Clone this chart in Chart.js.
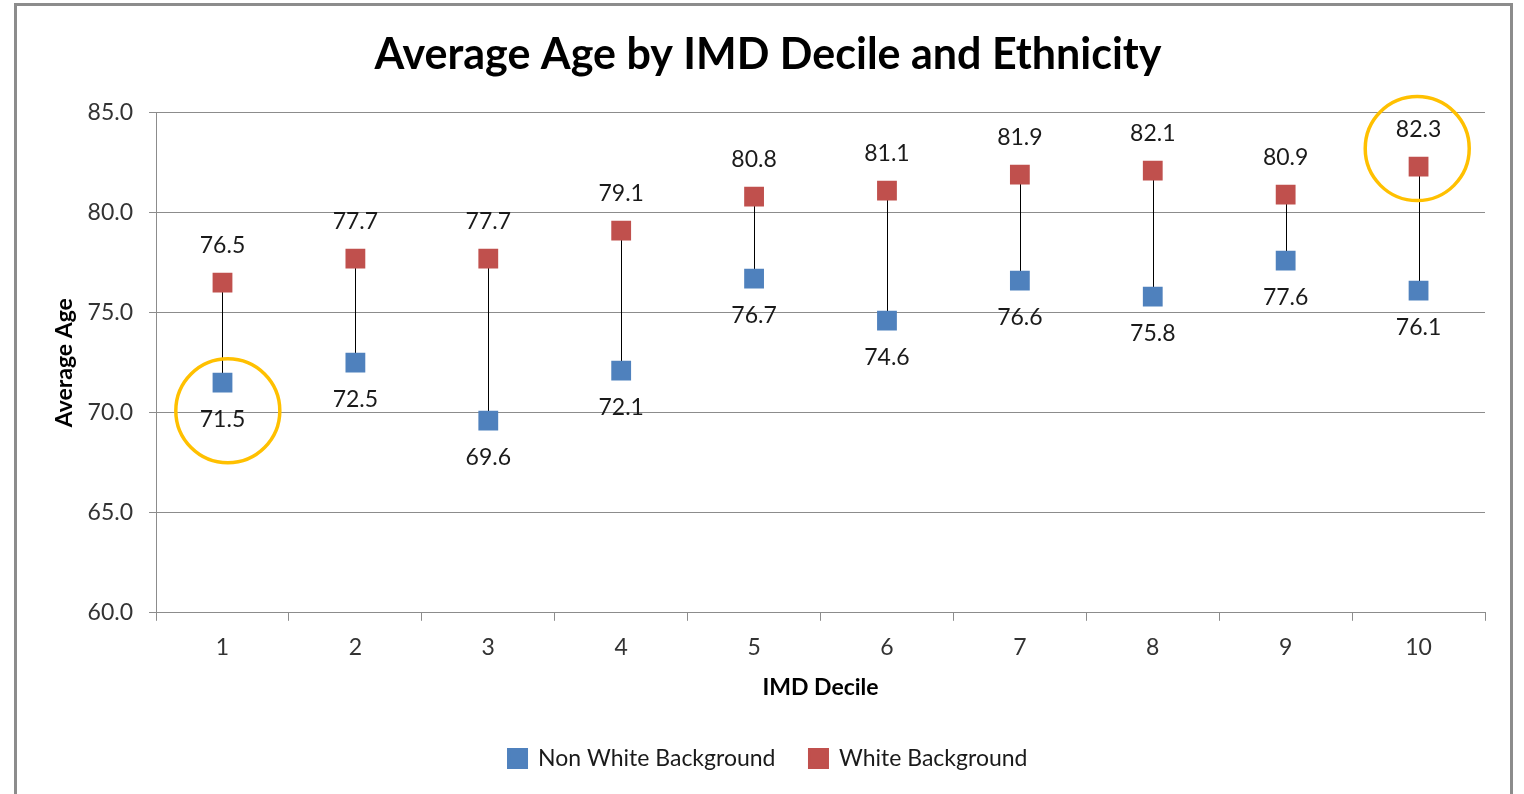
<!DOCTYPE html>
<html>
<head>
<meta charset="utf-8">
<script src="https://cdn.jsdelivr.net/npm/chart.js@4.4.1/dist/chart.umd.min.js"></script>
<style>
  html, body { margin: 0; padding: 0; background: #fff; overflow: hidden; }
  #frame {
    position: absolute; left: 14px; top: 3px;
    width: 1493px; height: 791px;
    border: 3px solid #8c8c8c;
  }
  #chart { display: block; }
</style>
</head>
<body>
<div id="frame"><canvas id="chart" width="1493" height="791"></canvas></div>
<script>
const deciles = ['1', '2', '3', '4', '5', '6', '7', '8', '9', '10'];
const nonWhite = [71.5, 72.5, 69.6, 72.1, 76.7, 74.6, 76.6, 75.8, 77.6, 76.1];
const white = [76.5, 77.7, 77.7, 79.1, 80.8, 81.1, 81.9, 82.1, 80.9, 82.3];

// circled points: decile position and age at the circle centre
const highlightDeciles = [1.04, 9.99];
const highlightAges = [70.1, 83.2];

const FONT = 'Lato, "Open Sans", sans-serif';

// thin black line joining the two values in each decile
const hiLoLines = {
    id: 'hiLoLines',
    beforeDatasetsDraw(chart) {
        const { ctx, scales: { x, y } } = chart;
        ctx.save();
        ctx.strokeStyle = '#000';
        ctx.lineWidth = 1;
        deciles.forEach((d, i) => {
            const px = Math.round(x.getPixelForValue(i)) + 0.5;
            ctx.beginPath();
            ctx.moveTo(px, y.getPixelForValue(white[i]));
            ctx.lineTo(px, y.getPixelForValue(nonWhite[i]));
            ctx.stroke();
        });
        ctx.restore();
    }
};

// value labels: white above, non white below
const valueLabels = {
    id: 'valueLabels',
    afterDatasetsDraw(chart) {
        const { ctx } = chart;
        ctx.save();
        ctx.font = '23px ' + FONT;
        ctx.fillStyle = '#1a1a1a';
        ctx.textAlign = 'center';
        ctx.textBaseline = 'middle';
        chart.data.datasets.forEach((ds, di) => {
            const meta = chart.getDatasetMeta(di);
            meta.data.forEach((pt, i) => {
                const off = ds.labelSide === 'above' ? -37 : 37;
                ctx.fillText(ds.data[i].toFixed(1), pt.x, pt.y + off);
            });
        });
        ctx.restore();
    }
};

const circles = {
    id: 'circles',
    afterDatasetsDraw(chart) {
        const { ctx, scales: { x, y } } = chart;
        ctx.save();
        ctx.strokeStyle = '#FFC000';
        ctx.lineWidth = 3.5;
        highlightDeciles.forEach((d, i) => {
            ctx.beginPath();
            ctx.arc(x.getPixelForValue(d - 1), y.getPixelForValue(highlightAges[i]), 52, 0, Math.PI * 2);
            ctx.stroke();
        });
        ctx.restore();
    }
};

new Chart(document.getElementById('chart').getContext('2d'), {
    type: 'line',
    data: {
        labels: deciles,
        datasets: [
            {
                label: 'Non White Background',
                data: nonWhite,
                labelSide: 'below',
                showLine: false,
                pointStyle: 'rect',
                pointRadius: 14,
                pointHoverRadius: 14,
                backgroundColor: '#4F81BD',
                borderColor: '#4F81BD',
                pointBorderWidth: 0
            },
            {
                label: 'White Background',
                data: white,
                labelSide: 'above',
                showLine: false,
                pointStyle: 'rect',
                pointRadius: 14,
                pointHoverRadius: 14,
                backgroundColor: '#C0504D',
                borderColor: '#C0504D',
                pointBorderWidth: 0
            }
        ]
    },
    options: {
        responsive: false,
        animation: false,
        layout: { padding: { left: 34, right: 25, top: 0, bottom: 17 } },
        plugins: {
            title: {
                display: true,
                text: 'Average Age by IMD Decile and Ethnicity',
                color: '#000',
                font: { family: FONT, size: 43, weight: 'bold' },
                padding: { top: 23, bottom: 32 }
            },
            legend: {
                position: 'bottom',
                labels: {
                    color: '#1a1a1a',
                    font: { family: FONT, size: 23 },
                    boxWidth: 18,
                    boxHeight: 18,
                    padding: 34
                }
            },
            tooltip: { enabled: false }
        },
        scales: {
            x: {
                offset: true,
                grid: { offset: true, drawOnChartArea: false, color: '#8c8c8c', tickLength: 8 },
                border: { color: '#8c8c8c' },
                ticks: { color: '#333', font: { family: FONT, size: 23 }, padding: 13 },
                title: {
                    display: true, text: 'IMD Decile', color: '#000',
                    font: { family: FONT, size: 23, weight: 'bold' },
                    padding: { top: -1, bottom: 12 }
                }
            },
            y: {
                min: 60, max: 85,
                grid: { color: '#8c8c8c', tickLength: 7 },
                border: { color: '#8c8c8c' },
                ticks: {
                    stepSize: 5, color: '#333', padding: 16,
                    font: { family: FONT, size: 23 },
                    callback: v => v.toFixed(1)
                },
                title: {
                    display: true, text: 'Average Age', color: '#000',
                    font: { family: FONT, size: 23, weight: 'bold' },
                    padding: { top: 0, bottom: -7 }
                }
            }
        }
    },
    plugins: [hiLoLines, valueLabels, circles]
});
</script>
</body>
</html>
